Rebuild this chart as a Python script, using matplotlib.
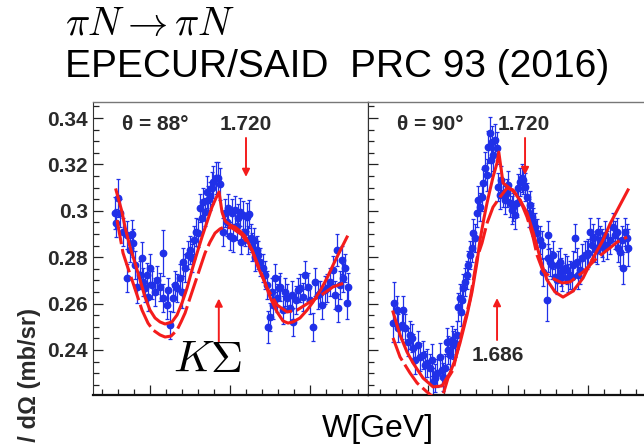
import matplotlib
matplotlib.use("Agg")
import matplotlib.pyplot as plt
from matplotlib.ticker import MultipleLocator

plt.rcParams["mathtext.fontset"] = "cm"
plt.rcParams["font.family"] = ["Liberation Sans", "DejaVu Sans"]

BLUE = "#2030e8"
RED = "#f41c1c"

# EPECUR pi- p elastic data, theta = 88 deg
W88 = [1.5563, 1.5575, 1.560, 1.5625, 1.5663, 1.5713, 1.5713, 1.575, 1.5775, 1.5788,
       1.5813, 1.5838, 1.5875, 1.590, 1.5913, 1.5938, 1.5963, 1.5975, 1.600, 1.6025,
       1.6063, 1.6088, 1.6125, 1.6163, 1.6163, 1.6213, 1.6225, 1.625, 1.6288, 1.6313,
       1.6338, 1.6375, 1.640, 1.6413, 1.6438, 1.6475, 1.650, 1.6525, 1.655, 1.6575,
       1.660, 1.6625, 1.665, 1.6663, 1.6688, 1.6713, 1.6725, 1.675, 1.6775, 1.6788,
       1.6825, 1.685, 1.6875, 1.6913, 1.6938, 1.6963, 1.6975, 1.700, 1.7025, 1.7038,
       1.7063, 1.7088, 1.710, 1.7125, 1.7138, 1.7163, 1.7188, 1.7213, 1.7225, 1.7238,
       1.7263, 1.7275, 1.730, 1.7313, 1.7338, 1.735, 1.7375, 1.7413, 1.7438, 1.7463,
       1.7475, 1.750, 1.7525, 1.7538, 1.7563, 1.7588, 1.7613, 1.7625, 1.7663, 1.7688,
       1.7713, 1.775, 1.7775, 1.7788, 1.7825, 1.785, 1.7875, 1.7913, 1.7938, 1.7975,
       1.800, 1.8038, 1.8063, 1.810, 1.8125, 1.815, 1.8188, 1.8213, 1.825, 1.8288,
       1.8313, 1.8338, 1.835, 1.8375, 1.840, 1.8413, 1.8438, 1.8463, 1.8475]
XS88 = [0.2991, 0.2947, 0.3055, 0.2991, 0.2909, 0.2896, 0.2710, 0.2831, 0.2900, 0.2861,
        0.2766, 0.2672, 0.2723, 0.2797, 0.2693, 0.2667, 0.2723, 0.2628, 0.2753, 0.2680,
        0.2650, 0.2702, 0.2672, 0.2818, 0.2624, 0.2594, 0.2659, 0.2508, 0.2624, 0.2680,
        0.2667, 0.2710, 0.2650, 0.2779, 0.2753, 0.2809, 0.2831, 0.2797, 0.2874, 0.2909,
        0.2904, 0.3012, 0.2969, 0.3038, 0.2995, 0.3081, 0.3047, 0.3064, 0.3098, 0.3124,
        0.3141, 0.3141, 0.3115, 0.2909, 0.2991, 0.2952, 0.3012, 0.2891, 0.2991, 0.2883,
        0.3003, 0.2934, 0.2969, 0.2995, 0.2865, 0.2982, 0.2909, 0.2973, 0.2874, 0.2986,
        0.2883, 0.2844, 0.2874, 0.2801, 0.2831, 0.2809, 0.2779, 0.2753, 0.2723, 0.2680,
        0.2499, 0.2542, 0.2650, 0.2594, 0.2710, 0.2624, 0.2667, 0.2672, 0.2572, 0.2650,
        0.2624, 0.2581, 0.2637, 0.2521, 0.2616, 0.2659, 0.2667, 0.2628, 0.2723, 0.2672,
        0.2616, 0.2499, 0.2693, 0.2637, 0.2646, 0.2594, 0.2659, 0.2667, 0.2693, 0.2745,
        0.2637, 0.2831, 0.2581, 0.2680, 0.2788, 0.2710, 0.2753, 0.2603, 0.2672]
ERR88 = [0.007, 0.006, 0.008, 0.006, 0.006, 0.006, 0.006, 0.005, 0.006, 0.006,
         0.006, 0.007, 0.006, 0.007, 0.006, 0.006, 0.005, 0.006, 0.006, 0.006,
         0.006, 0.006, 0.006, 0.010, 0.006, 0.006, 0.005, 0.006, 0.006, 0.006,
         0.006, 0.006, 0.007, 0.006, 0.006, 0.006, 0.006, 0.006, 0.006, 0.006,
         0.006, 0.006, 0.006, 0.006, 0.006, 0.007, 0.006, 0.006, 0.007, 0.007,
         0.007, 0.007, 0.007, 0.006, 0.006, 0.006, 0.006, 0.006, 0.006, 0.006,
         0.006, 0.006, 0.006, 0.006, 0.005, 0.006, 0.006, 0.006, 0.006, 0.006,
         0.006, 0.006, 0.005, 0.006, 0.006, 0.006, 0.006, 0.006, 0.006, 0.006,
         0.007, 0.006, 0.006, 0.006, 0.006, 0.006, 0.005, 0.006, 0.006, 0.006,
         0.006, 0.006, 0.006, 0.006, 0.006, 0.005, 0.006, 0.006, 0.006, 0.006,
         0.006, 0.006, 0.006, 0.006, 0.005, 0.006, 0.006, 0.006, 0.006, 0.006,
         0.006, 0.007, 0.006, 0.006, 0.006, 0.006, 0.006, 0.007, 0.006]

# theta = 90 deg
W90 = [1.5563, 1.5575, 1.5613, 1.5625, 1.5675, 1.5688, 1.5713, 1.575, 1.5775, 1.580,
       1.5813, 1.5838, 1.5875, 1.590, 1.5938, 1.5963, 1.5988, 1.6025, 1.605, 1.6063,
       1.6088, 1.6113, 1.615, 1.6175, 1.6188, 1.6213, 1.6238, 1.625, 1.6275, 1.630,
       1.6313, 1.6338, 1.6363, 1.6375, 1.640, 1.6413, 1.6425, 1.6438, 1.6463, 1.6488,
       1.650, 1.6525, 1.655, 1.6563, 1.6588, 1.6613, 1.6625, 1.665, 1.6675, 1.6688,
       1.6713, 1.6738, 1.675, 1.6775, 1.6788, 1.680, 1.6813, 1.6838, 1.6863, 1.6875,
       1.690, 1.6913, 1.6938, 1.6963, 1.6988, 1.700, 1.7025, 1.705, 1.7063, 1.7088,
       1.7113, 1.7125, 1.715, 1.7175, 1.7188, 1.7213, 1.7238, 1.7263, 1.7275, 1.730,
       1.7313, 1.7338, 1.7363, 1.740, 1.7425, 1.7438, 1.7488, 1.750, 1.750, 1.7525,
       1.755, 1.7563, 1.7588, 1.7613, 1.7625, 1.765, 1.7663, 1.7675, 1.7713, 1.7738,
       1.775, 1.7775, 1.780, 1.7813, 1.7838, 1.7863, 1.7875, 1.790, 1.7925, 1.7963,
       1.7988, 1.800, 1.8025, 1.805, 1.8063, 1.8088, 1.8113, 1.8125, 1.815, 1.8175,
       1.8188, 1.8213, 1.8238, 1.8275, 1.8313, 1.8338, 1.8363, 1.8375, 1.840, 1.8425,
       1.8438, 1.8463, 1.8488, 1.850]
XS90 = [0.2516, 0.2603, 0.2572, 0.2495, 0.2508, 0.2572, 0.2495, 0.2434, 0.2465, 0.2452,
        0.2409, 0.2357, 0.2422, 0.2370, 0.2378, 0.2335, 0.2344, 0.2322, 0.2357, 0.2262,
        0.2279, 0.2301, 0.2370, 0.2314, 0.2284, 0.2322, 0.2434, 0.2400, 0.2378, 0.2443,
        0.2422, 0.2430, 0.2465, 0.2585, 0.2624, 0.2564, 0.2616, 0.2667, 0.2693, 0.2723,
        0.2766, 0.2809, 0.2840, 0.2904, 0.2883, 0.2991, 0.3047, 0.3016, 0.3059, 0.3120,
        0.3184, 0.3154, 0.3275, 0.3335, 0.3219, 0.3296, 0.3240, 0.3305, 0.3271, 0.3103,
        0.3068, 0.3133, 0.3077, 0.3047, 0.3077, 0.3111, 0.3034, 0.3003, 0.3016, 0.2982,
        0.3034, 0.3098, 0.3124, 0.3141, 0.3133, 0.3103, 0.3059, 0.2991, 0.3025, 0.2973,
        0.2952, 0.2930, 0.2904, 0.2874, 0.2853, 0.2736, 0.2616, 0.2896, 0.2797, 0.2779,
        0.2766, 0.2809, 0.2715, 0.2702, 0.2766, 0.2779, 0.2736, 0.2715, 0.2753, 0.2745,
        0.2710, 0.2723, 0.2715, 0.2766, 0.2883, 0.2779, 0.2723, 0.2745, 0.2797, 0.2809,
        0.2809, 0.2818, 0.2909, 0.2853, 0.2883, 0.2840, 0.2831, 0.2909, 0.2874, 0.2861,
        0.2844, 0.2896, 0.2853, 0.2874, 0.2930, 0.2896, 0.2909, 0.2840, 0.2822, 0.2874,
        0.2753, 0.2909, 0.2883, 0.2840]
ERR90 = [0.008, 0.009, 0.006, 0.006, 0.006, 0.006, 0.006, 0.006, 0.006, 0.006,
         0.006, 0.006, 0.006, 0.006, 0.006, 0.006, 0.006, 0.006, 0.007, 0.006,
         0.006, 0.006, 0.006, 0.006, 0.006, 0.006, 0.006, 0.006, 0.006, 0.006,
         0.006, 0.006, 0.006, 0.006, 0.006, 0.006, 0.006, 0.006, 0.006, 0.006,
         0.006, 0.006, 0.006, 0.006, 0.006, 0.006, 0.006, 0.006, 0.006, 0.006,
         0.007, 0.007, 0.007, 0.007, 0.007, 0.007, 0.007, 0.007, 0.007, 0.006,
         0.006, 0.006, 0.006, 0.006, 0.006, 0.006, 0.006, 0.006, 0.006, 0.006,
         0.006, 0.006, 0.006, 0.006, 0.006, 0.006, 0.006, 0.006, 0.006, 0.006,
         0.006, 0.006, 0.006, 0.006, 0.006, 0.006, 0.009, 0.006, 0.006, 0.006,
         0.006, 0.006, 0.006, 0.006, 0.006, 0.006, 0.006, 0.006, 0.006, 0.006,
         0.006, 0.006, 0.006, 0.006, 0.006, 0.006, 0.006, 0.006, 0.006, 0.006,
         0.006, 0.006, 0.006, 0.006, 0.006, 0.006, 0.006, 0.006, 0.006, 0.006,
         0.006, 0.006, 0.006, 0.006, 0.006, 0.006, 0.006, 0.006, 0.006, 0.006,
         0.007, 0.006, 0.006, 0.008]

# SAID solutions: new fit (solid) and previous one (dashed)
FIT88_W = [1.5575, 1.565, 1.5688, 1.575, 1.5813, 1.5875, 1.5938, 1.600, 1.6063, 1.6125,
           1.6188, 1.6275, 1.6338, 1.640, 1.6463, 1.6525, 1.6588, 1.665, 1.6713, 1.6775,
           1.6825, 1.6863, 1.690, 1.6938, 1.700, 1.7063, 1.7125, 1.7188, 1.7275, 1.735,
           1.7438, 1.750, 1.7588, 1.7663, 1.7725, 1.7788, 1.7875, 1.7963, 1.8038, 1.8125,
           1.8213, 1.8288, 1.8375, 1.8463]
FIT88 = [0.3090, 0.2995, 0.2930, 0.2844, 0.2775, 0.2702, 0.2628, 0.2572, 0.2538, 0.2521,
         0.2512, 0.2521, 0.2551, 0.2603, 0.2667, 0.2745, 0.2818, 0.2887, 0.2952, 0.3016,
         0.3055, 0.3081, 0.2995, 0.2956, 0.2939, 0.2930, 0.2913, 0.2891, 0.2831, 0.2758,
         0.2689, 0.2628, 0.2564, 0.2525, 0.2516, 0.2521, 0.2538, 0.2572, 0.2607, 0.2654,
         0.2710, 0.2766, 0.2827, 0.2887]
OLD88_W = [1.5588, 1.5663, 1.5725, 1.5775, 1.5838, 1.590, 1.5975, 1.6038, 1.6125, 1.6188,
           1.6263, 1.6338, 1.6388, 1.6438, 1.650, 1.6563, 1.6625, 1.6688, 1.675, 1.6813,
           1.6875, 1.6925, 1.7025, 1.715, 1.7275, 1.7375, 1.7463, 1.7588, 1.7713, 1.7838,
           1.800, 1.8125, 1.8288, 1.8463]
OLD88 = [0.2960, 0.2818, 0.2753, 0.2702, 0.2637, 0.2572, 0.2516, 0.2486, 0.2465, 0.2456,
         0.2460, 0.2486, 0.2521, 0.2559, 0.2624, 0.2689, 0.2753, 0.2818, 0.2865, 0.2904,
         0.2922, 0.2930, 0.2926, 0.2896, 0.2831, 0.2745, 0.2667, 0.2594, 0.2564, 0.2572,
         0.2607, 0.2633, 0.2672, 0.2693]

FIT90_W = [1.5563, 1.565, 1.5738, 1.5813, 1.5938, 1.6063, 1.6175, 1.6275, 1.6338, 1.640,
           1.6488, 1.655, 1.6613, 1.665, 1.670, 1.6738, 1.6775, 1.6813, 1.6863, 1.6885,
           1.6938, 1.700, 1.7063, 1.715, 1.7238, 1.7313, 1.7375, 1.7425, 1.7488, 1.7588,
           1.7688, 1.7813, 1.7938, 1.8063, 1.8188, 1.8275, 1.840, 1.850]
FIT90 = [0.2564, 0.2465, 0.2391, 0.2344, 0.2279, 0.2241, 0.2245, 0.2301, 0.2357, 0.2430,
         0.2551, 0.2650, 0.2779, 0.2874, 0.2969, 0.3034, 0.3090, 0.3146, 0.3206, 0.3253,
         0.3120, 0.3103, 0.3085, 0.3047, 0.2991, 0.2909, 0.2831, 0.2766, 0.2702, 0.2650,
         0.2628, 0.2654, 0.2710, 0.2797, 0.2874, 0.2943, 0.3025, 0.3090]
OLD90_W = [1.5563, 1.565, 1.5775, 1.5863, 1.5988, 1.6113, 1.6175, 1.625, 1.6313, 1.6363,
           1.6425, 1.6488, 1.6525, 1.6613, 1.6675, 1.6738, 1.6813, 1.690, 1.6988, 1.7063,
           1.715, 1.7238, 1.7313, 1.7363, 1.7438, 1.755, 1.7675, 1.7775, 1.7938, 1.8113,
           1.8275, 1.8363, 1.8488]
OLD90 = [0.2452, 0.2370, 0.2301, 0.2258, 0.2219, 0.2184, 0.2193, 0.2279, 0.2314, 0.2391,
         0.2478, 0.2564, 0.2616, 0.2797, 0.2861, 0.2947, 0.3016, 0.3059, 0.3098, 0.3090,
         0.3047, 0.2973, 0.2887, 0.2809, 0.2740, 0.2710, 0.2689, 0.2693, 0.2736, 0.2797,
         0.2840, 0.2865, 0.2887]

YTICKS = [0.24, 0.26, 0.28, 0.30, 0.32, 0.34]
YTICK_LABELS = ["0.24", "0.26", "0.28", "0.3", "0.32", "0.34"]


def style_axes(ax, xlim, show_labels):
    ax.set_xlim(*xlim)
    ax.set_ylim(0.2206, 0.3469)
    ax.xaxis.set_major_locator(MultipleLocator(0.1))
    ax.xaxis.set_minor_locator(MultipleLocator(0.02))
    ax.set_yticks(YTICKS)
    ax.yaxis.set_minor_locator(MultipleLocator(0.005))
    ax.tick_params(which="both", direction="in", top=False, right=False,
                   colors="#222222", width=0.9)
    ax.tick_params(which="major", length=7)
    ax.tick_params(which="minor", length=4)
    ax.set_xticklabels([])
    if show_labels:
        ax.set_yticklabels(YTICK_LABELS, fontsize=15, fontweight="bold", color="#2a2a2a")
    else:
        ax.set_yticklabels([])
    for side in ("top", "right"):
        ax.spines[side].set_color("#777777")
        ax.spines[side].set_linewidth(1.0)
    ax.spines["left"].set_color("#333333")
    ax.spines["bottom"].set_color("#111111")
    ax.spines["bottom"].set_linewidth(1.6)


def draw_panel(ax, w, xs, err, fit_w, fit, old_w, old):
    ax.errorbar(w, xs, yerr=err, fmt="o", ms=4.6, color=BLUE, ecolor=BLUE,
                elinewidth=0.9, capsize=1.6, capthick=0.9, zorder=2)
    ax.plot(fit_w, fit, color=RED, lw=2.2, zorder=3, solid_joinstyle="round")
    ax.plot(old_w, old, color=RED, lw=2.2, dashes=(8, 1.6), zorder=3)


def red_arrow(ax, tail, tip):
    ax.annotate("", xy=tip, xytext=tail,
                arrowprops=dict(arrowstyle="-|>", color=RED, lw=1.4,
                                mutation_scale=11, shrinkA=0, shrinkB=0))


fig = plt.figure(figsize=(6.44, 4.46), dpi=100)
ax1 = fig.add_axes([93 / 644, 51 / 446, 275 / 644, 293 / 446])
ax2 = fig.add_axes([368 / 644, 51 / 446, 280 / 644, 293 / 446])

draw_panel(ax1, W88, XS88, ERR88, FIT88_W, FIT88, OLD88_W, OLD88)
draw_panel(ax2, W90, XS90, ERR90, FIT90_W, FIT90, OLD90_W, OLD90)
style_axes(ax1, (1.52875, 1.8725), True)
style_axes(ax2, (1.525, 1.875), False)

lab = dict(fontsize=15, fontweight="bold", color="#2a2a2a", va="center", ha="left")
ax1.text(1.565, 0.3372, "θ = 88°", **lab)
ax1.text(1.6875, 0.3372, "1.720", **lab)
ax2.text(1.5613, 0.3372, "θ = 90°", **lab)
ax2.text(1.6875, 0.3372, "1.720", **lab)
ax2.text(1.655, 0.2378, "1.686", **lab)

red_arrow(ax1, (1.720, 0.3314), (1.720, 0.3146))
red_arrow(ax2, (1.7213, 0.3314), (1.7213, 0.3154))
red_arrow(ax1, (1.686, 0.2434), (1.686, 0.2622))
red_arrow(ax2, (1.6863, 0.2443), (1.6863, 0.2624))

ax1.text(1.6725, 0.2353, r"$K\Sigma$", fontsize=32, ha="center", va="center")

fig.text(65 / 644, 0.9215, r"$\pi N \to \pi N$", fontsize=29, ha="left", va="baseline")
fig.text(65 / 644, 0.8274, "EPECUR/SAID  PRC 93 (2016)", fontsize=28,
         ha="left", va="baseline")
fig.text(322 / 644, 0.0202, "W[GeV]", fontsize=23, ha="left", va="baseline")
fig.text(30 / 644, 0.3094, "dσ / dΩ (mb/sr)", fontsize=17, fontweight="bold",
         rotation=90, ha="center", va="top", color="#2a2a2a")

fig.savefig("out.png", dpi=100)
